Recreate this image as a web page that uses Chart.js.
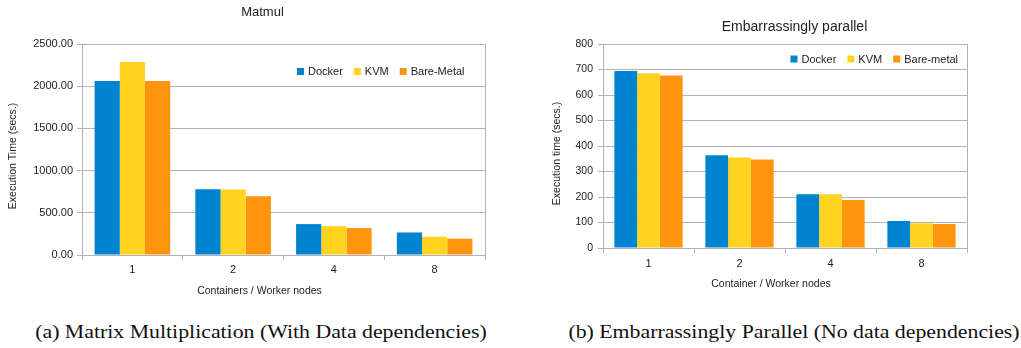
<!DOCTYPE html>
<html>
<head>
<meta charset="utf-8">
<script src="https://cdn.jsdelivr.net/npm/chart.js@4.4.0/dist/chart.umd.min.js"></script>
<style>
body { margin: 0; background: #fff; }
#wrap { position: relative; width: 1021px; height: 348px; }
canvas { position: absolute; top: 0; }
.cap { position: absolute; top: 322px; line-height: 20px; font-family: "Liberation Serif", serif; font-size: 19px; color: #111; white-space: nowrap; transform: translateX(-50%) scaleX(1.148); }
</style>
</head>
<body>
<div id="wrap">
  <canvas id="matmul" width="500" height="300" style="left:0"></canvas>
  <canvas id="embpar" width="501" height="300" style="left:520px"></canvas>
  <div class="cap" style="left:260.5px">(a) Matrix Multiplication (With Data dependencies)</div>
  <div class="cap" style="left:793.7px">(b) Embarrassingly Parallel (No data dependencies)</div>
</div>
<script>
// data
const nodes = ['1', '2', '4', '8'];
const matmulNames = ['Docker', 'KVM', 'Bare-Metal'];
const embNames = ['Docker', 'KVM', 'Bare-metal'];

const matmulDocker = [2062, 779, 366, 267];
const matmulKvm = [2287, 775, 342, 216];
const matmulBare = [2062, 697, 319, 193];

const embDocker = [694, 364, 211, 106];
const embKvm = [685, 355, 211, 97];
const embBare = [676, 347, 188, 94];

const colors = ['#0084d1', '#ffd320', '#ff950e'];
const gridGray = '#b3b3b3';
const family = '"Liberation Sans", Arial, sans-serif';

// legend drawn inside the plot, right aligned
const insideLegend = {
  id: 'insideLegend',
  afterDraw(chart, args, opts) {
    const ctx = chart.ctx;
    ctx.save();
    ctx.font = opts.font;
    const items = chart.data.datasets.map(d => ({ label: d.label, color: d.backgroundColor, w: ctx.measureText(d.label).width }));
    let total = 0;
    items.forEach((it, i) => {
      total += opts.box + opts.gap + it.w + (i < items.length - 1 ? opts.spacing : 0);
    });
    let x = opts.right - total;
    ctx.textBaseline = 'middle';
    items.forEach(it => {
      ctx.fillStyle = it.color;
      ctx.fillRect(x, opts.y - opts.box / 2, opts.box, opts.box);
      x += opts.box + opts.gap;
      ctx.fillStyle = opts.color;
      ctx.fillText(it.label, x, opts.y + 0.5);
      x += it.w + opts.spacing;
    });
    ctx.restore();
  }
};

// titles placed where LibreOffice put them
const freeText = {
  id: 'freeText',
  afterDraw(chart, args, opts) {
    const ctx = chart.ctx;
    opts.items.forEach(t => {
      ctx.save();
      ctx.translate(t.x, t.y);
      if (t.rotate) ctx.rotate(-Math.PI / 2);
      ctx.font = t.font;
      ctx.fillStyle = opts.color;
      ctx.textAlign = 'center';
      ctx.textBaseline = 'middle';
      ctx.fillText(t.text, 0, 0);
      ctx.restore();
    });
  }
};

function barChart(id, names, values, setup) {
  return new Chart(document.getElementById(id), {
    type: 'bar',
    data: {
      labels: nodes,
      datasets: names.map((n, i) => ({
        label: n,
        data: values[i],
        backgroundColor: colors[i],
        borderWidth: 0,
        categoryPercentage: 0.75,
        barPercentage: 1
      }))
    },
    plugins: [insideLegend, freeText],
    options: {
      responsive: false,
      animation: false,
      layout: { padding: { left: 0, right: setup.padRight, top: 44, bottom: 0 } },
      plugins: {
        legend: { display: false },
        tooltip: { enabled: false },
        insideLegend: Object.assign({ font: '11px ' + family, color: '#222', box: 7, gap: 4, spacing: 11 }, setup.legend),
        freeText: { color: '#222', items: setup.texts }
      },
      scales: {
        x: {
          grid: {
            offset: true,
            color: c => (c.type === 'scale' || c.index === 0) ? gridGray : 'rgba(0,0,0,0)',
            tickColor: gridGray,
            tickLength: 5
          },
          border: { color: gridGray },
          ticks: { font: { family: family, size: 11 }, color: '#222', padding: setup.xPad },
          afterFit: s => { s.height = setup.xHeight; }
        },
        y: {
          min: 0,
          max: setup.max,
          ticks: {
            stepSize: setup.step,
            callback: setup.fmt,
            font: { family: family, size: setup.yFont },
            color: '#222',
            padding: setup.yPad
          },
          grid: { color: gridGray, tickLength: 5 },
          border: { color: gridGray },
          afterFit: s => { s.width = setup.yWidth; }
        }
      }
    }
  });
}

barChart('matmul', matmulNames, [matmulDocker, matmulKvm, matmulBare], {
  padRight: 15, xHeight: 45, yWidth: 82, xPad: 3, yPad: 4, yFont: 11,
  max: 2500, step: 500, fmt: v => v.toFixed(2),
  legend: { right: 464.5, y: 71.5 },
  texts: [
    { text: 'Matmul', x: 262.5, y: 12, font: '13px ' + family },
    { text: 'Execution Time (secs.)', x: 13, y: 156, rotate: true, font: '10.5px ' + family },
    { text: 'Containers / Worker nodes', x: 259.5, y: 291, font: '10.5px ' + family }
  ]
});

barChart('embpar', embNames, [embDocker, embKvm, embBare], {
  padRight: 54, xHeight: 52, yWidth: 83, xPad: 4, yPad: 5, yFont: 10.5,
  max: 800, step: 100, fmt: v => v,
  legend: { right: 438, y: 59 },
  texts: [
    { text: 'Embarrassingly parallel', x: 274.5, y: 27, font: '14px ' + family },
    { text: 'Execution time (secs.)', x: 37, y: 153.5, rotate: true, font: '10.5px ' + family },
    { text: 'Container / Worker nodes', x: 251, y: 284, font: '10.5px ' + family }
  ]
});
</script>
</body>
</html>
